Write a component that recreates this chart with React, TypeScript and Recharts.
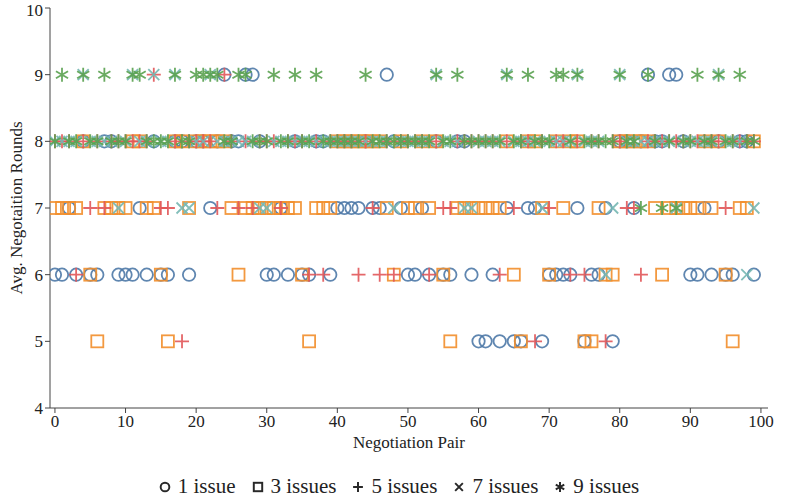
import React from 'react';
import { ScatterChart, Scatter, XAxis, YAxis } from 'recharts';

// avg. negotiation rounds per pair (index = pair number), one array per issue count
const oneIssue = [
  6, 6, 7, 6, 8, 6, 6, 8, 8, 6,
  6, 6, 7, 6, 8, 6, 6, 8, 8, 6,
  8, 8, 7, 8, 9, 8, 8, 9, 9, 8,
  6, 6, 7, 6, 8, 6, 6, 8, 8, 6,
  7, 7, 7, 7, 8, 7, 7, 9, 8, 7,
  6, 6, 7, 6, 8, 6, 6, 8, 8, 6,
  5, 5, 6, 5, 7, 5, 5, 7, 7, 5,
  6, 6, 6, 6, 7, 5, 6, 6, 7, 5,
  8, 8, 7, 8, 9, 8, 8, 9, 9, 8,
  6, 6, 7, 6, 8, 6, 6, 8, 8, 6,
];

const threeIssues = [
  7, 7, 7, 7, 8, 6, 5, 7, 7, 7,
  7, 8, 8, 7, 7, 6, 5, 8, 8, 7,
  8, 8, 8, 8, 8, 7, 6, 7, 7, 7,
  7, 7, 7, 7, 7, 6, 5, 7, 7, 7,
  8, 8, 8, 8, 8, 8, 8, 7, 6, 8,
  7, 7, 8, 7, 8, 6, 5, 7, 7, 7,
  7, 7, 7, 7, 8, 6, 5, 8, 8, 7,
  6, 8, 7, 8, 8, 5, 5, 7, 6, 6,
  8, 8, 8, 8, 8, 7, 6, 7, 7, 7,
  7, 7, 8, 7, 8, 6, 5, 7, 7, 8,
];

const fiveIssues = [
  8, 8, 8, 6, 8, 7, 8, 7, 8, 8,
  8, 8, 8, 8, 9, 7, 7, 8, 5, 8,
  8, 8, 8, 7, 9, 8, 7, 8, 7, 8,
  8, 8, 7, 8, 8, 8, 6, 8, 6, 8,
  8, 8, 8, 6, 8, 7, 6, 8, 6, 8,
  8, 8, 8, 6, 8, 7, 7, 8, 8, 8,
  8, 8, 8, 6, 8, 7, 8, 8, 5, 8,
  7, 8, 8, 6, 8, 6, 8, 8, 5, 8,
  8, 7, 7, 6, 8, 8, 8, 8, 8, 8,
  8, 8, 8, 8, 8, 7, 8, 8, 8, 8,
];

const sevenIssues = [
  8, 8, 8, 8, 9, 8, 8, 8, 8, 7,
  8, 9, 8, 8, 9, 8, 8, 9, 7, 7,
  8, 8, 9, 8, 8, 8, 8, 8, 8, 7,
  7, 8, 8, 8, 8, 8, 8, 8, 8, 8,
  8, 8, 8, 8, 8, 8, 8, 8, 7, 8,
  8, 8, 8, 8, 9, 8, 8, 8, 7, 7,
  8, 8, 8, 8, 9, 8, 8, 8, 8, 7,
  8, 8, 8, 8, 9, 8, 8, 8, 6, 7,
  9, 8, 8, 8, 8, 8, 8, 8, 7, 8,
  8, 8, 8, 8, 9, 8, 8, 8, 6, 7,
];

const nineIssues = [
  8, 9, 8, 8, 9, 8, 8, 9, 8, 8,
  8, 9, 9, 8, 8, 8, 8, 9, 8, 8,
  9, 9, 9, 9, 8, 8, 9, 9, 8, 8,
  8, 9, 8, 8, 9, 8, 8, 9, 8, 8,
  8, 8, 8, 8, 9, 8, 8, 8, 8, 8,
  8, 8, 8, 8, 9, 8, 8, 9, 8, 8,
  8, 8, 8, 8, 9, 8, 8, 9, 8, 8,
  8, 9, 9, 8, 9, 8, 8, 8, 8, 8,
  9, 8, 8, 7, 9, 8, 7, 8, 7, 8,
  8, 9, 8, 8, 9, 8, 8, 9, 8, 8,
];

const xTicks = [0, 10, 20, 30, 40, 50, 60, 70, 80, 90, 100];
const yTicks = [4, 5, 6, 7, 8, 9, 10];
const seriesNames = ['1 issue', '3 issues', '5 issues', '7 issues', '9 issues'];

const BLUE = '#4E79A7';
const ORANGE = '#F28E2B';
const RED = '#E15759';
const TEAL = '#76B7B2';
const GREEN = '#59A14F';

const FONT = '"Liberation Serif", "Times New Roman", serif';
const SW = 1.8;
const OP = 0.9;

const toPoints = (values: number[]) => values.map((v, i) => ({ pair: i, rounds: v }));

const CircleMark = ({ cx, cy, color = BLUE, sw = SW }: any) => (
  <circle cx={cx} cy={cy} r={6.2} fill="none" stroke={color} strokeWidth={sw} strokeOpacity={OP} />
);

const SquareMark = ({ cx, cy, color = ORANGE, sw = SW }: any) => (
  <rect x={cx - 6} y={cy - 6} width={12} height={12} fill="none" stroke={color} strokeWidth={sw} strokeOpacity={OP} />
);

const PlusMark = ({ cx, cy, color = RED, sw = SW }: any) => (
  <path d={`M${cx - 7},${cy}H${cx + 7}M${cx},${cy - 7}V${cy + 7}`} stroke={color} strokeWidth={sw} strokeOpacity={OP} />
);

const CrossMark = ({ cx, cy, color = TEAL, sw = SW }: any) => (
  <path d={`M${cx - 5.5},${cy - 5.5}L${cx + 5.5},${cy + 5.5}M${cx - 5.5},${cy + 5.5}L${cx + 5.5},${cy - 5.5}`} stroke={color} strokeWidth={sw} strokeOpacity={OP} />
);

const AsteriskMark = ({ cx, cy, color = GREEN, sw = SW }: any) => {
  const r = 7;
  const dx = r * Math.cos(Math.PI / 6);
  const dy = r * Math.sin(Math.PI / 6);
  return (
    <path
      d={`M${cx},${cy - r}V${cy + r}M${cx - dx},${cy - dy}L${cx + dx},${cy + dy}M${cx - dx},${cy + dy}L${cx + dx},${cy - dy}`}
      stroke={color}
      strokeWidth={sw}
      strokeOpacity={OP}
    />
  );
};

const legendShapes = [CircleMark, SquareMark, PlusMark, CrossMark, AsteriskMark];

const ChartLegend = () => (
  <div
    style={{
      position: 'absolute',
      top: 475,
      left: 0,
      width: 798,
      display: 'flex',
      justifyContent: 'center',
      gap: 16,
      fontFamily: FONT,
      fontSize: 21,
      lineHeight: '23px',
      color: '#222',
    }}
  >
    {seriesNames.map((name, i) => {
      const Shape = legendShapes[i];
      return (
        <div key={name} style={{ display: 'flex', alignItems: 'center' }}>
          <svg width={12} height={12} style={{ marginRight: 7 }}>
            <g transform="translate(6,6) scale(0.7) translate(-6,-6)">
              <Shape cx={6} cy={6} color="#111" sw={2.8} />
            </g>
          </svg>
          <span>{name}</span>
        </div>
      );
    })}
  </div>
);

const App = () => {
  const tickStyle = { fill: '#222', fontSize: 17, fontFamily: FONT };
  return (
    <div style={{ position: 'relative', width: 798, height: 498, background: '#fff' }}>
      <style>{'body { margin: 0; }'}</style>
      <ScatterChart width={798} height={498} margin={{ top: 8, right: 30, bottom: 50, left: 0 }}>
        <XAxis
          type="number"
          dataKey="pair"
          domain={[-0.7, 101]}
          ticks={xTicks}
          allowDataOverflow
          tick={tickStyle}
          tickSize={5}
          height={40}
          stroke="#444"
          label={{ value: 'Negotiation Pair', position: 'insideBottom', offset: 0, fill: '#222', fontSize: 17, fontFamily: FONT }}
        />
        <YAxis
          type="number"
          dataKey="rounds"
          domain={[4, 10]}
          ticks={yTicks}
          tick={tickStyle}
          tickSize={5}
          width={50}
          stroke="#444"
          label={{ value: 'Avg. Negotaition Rounds', angle: -90, position: 'insideLeft', offset: 16, fill: '#222', fontSize: 17, fontFamily: FONT, style: { textAnchor: 'middle' } }}
        />
        <Scatter name="1 issue" data={toPoints(oneIssue)} shape={<CircleMark />} isAnimationActive={false} />
        <Scatter name="3 issues" data={toPoints(threeIssues)} shape={<SquareMark />} isAnimationActive={false} />
        <Scatter name="5 issues" data={toPoints(fiveIssues)} shape={<PlusMark />} isAnimationActive={false} />
        <Scatter name="7 issues" data={toPoints(sevenIssues)} shape={<CrossMark />} isAnimationActive={false} />
        <Scatter name="9 issues" data={toPoints(nineIssues)} shape={<AsteriskMark />} isAnimationActive={false} />
      </ScatterChart>
      <ChartLegend />
    </div>
  );
};

export default App;
